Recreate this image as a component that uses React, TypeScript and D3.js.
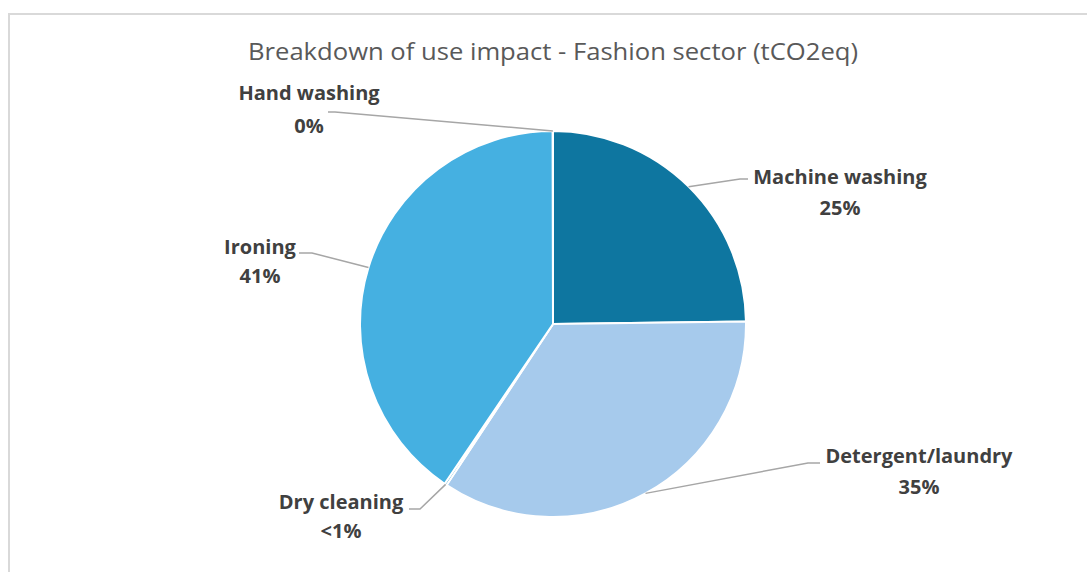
import React from "react";
import * as d3 from "d3";

const title = "Breakdown of use impact - Fashion sector (tCO2eq)";
const categories = ["Machine washing", "Detergent/laundry", "Dry cleaning", "Ironing", "Hand washing"];
const values = [24.8, 34.5, 0.2, 40.5, 0.02];
const percentLabels = ["25%", "35%", "<1%", "41%", "0%"];
const colors = ["#0E76A0", "#A6CAEC", "#1E8CC0", "#45B0E1", "#0F9ED5"];

// layout for labels: [labelCenterX, nameCenterY, pctCenterY, elbowX, elbowY, endX, endY]
const labelLayout: number[][] = [
  [840, 177, 208, 740, 179, 748, 179],
  [919, 456, 487, 808, 463, 820, 463],
  [341, 502, 531, 420, 509, 409, 509],
  [260, 247, 276, 312, 253, 299, 253],
  [309, 93, 126, 335, 112, 328, 112],
];

const W = 1087;
const H = 572;
const cx = 553;
const cy = 324;
const R = 193;

export default function App() {
  const data = categories.map((c, i) => ({ c, v: values[i], i }));
  const pie = d3.pie<any>().value((d) => d.v).sort(null).startAngle(0).endAngle(2 * Math.PI);
  const arcs = pie(data);
  const arcGen = d3.arc<any>().innerRadius(0).outerRadius(R);
  const font = "'Open Sans', sans-serif";
  return (
    <svg width={W} height={H} style={{ position: "absolute", left: 0, top: 0, background: "#fff" }}>
      <rect x={9} y={14} width={1200} height={700} fill="#fff" stroke="#D9D9D9" strokeWidth={2} />
      <text x={553} y={52} textAnchor="middle" dy="0.35em" fontFamily={font} fontSize={24} fill="#595959" textLength={610} lengthAdjust="spacingAndGlyphs">
        {title}
      </text>
      <g transform={`translate(${cx},${cy})`}>
        {arcs.map((a, i) => (
          <path key={i} d={arcGen(a) || ""} fill={colors[i]} stroke="#fff" strokeWidth={2} strokeLinejoin="round" />
        ))}
      </g>
      {arcs.map((a, i) => {
        const mid = (a.startAngle + a.endAngle) / 2;
        const px = cx + R * Math.sin(mid);
        const py = cy - R * Math.cos(mid);
        const L = labelLayout[i];
        const line = d3.line()([
          [px, py],
          [L[3], L[4]],
          [L[5], L[6]],
        ]);
        return (
          <g key={"l" + i}>
            <path d={line || ""} fill="none" stroke="#A6A6A6" strokeWidth={1.5} />
            <text x={L[0]} y={L[1]} dy="0.35em" textAnchor="middle" fontFamily={font} fontWeight={700} fontSize={20} fill="#404040">
              {categories[i]}
            </text>
            <text x={L[0]} y={L[2]} dy="0.35em" textAnchor="middle" fontFamily={font} fontWeight={700} fontSize={20} fill="#404040">
              {percentLabels[i]}
            </text>
          </g>
        );
      })}
    </svg>
  );
}
